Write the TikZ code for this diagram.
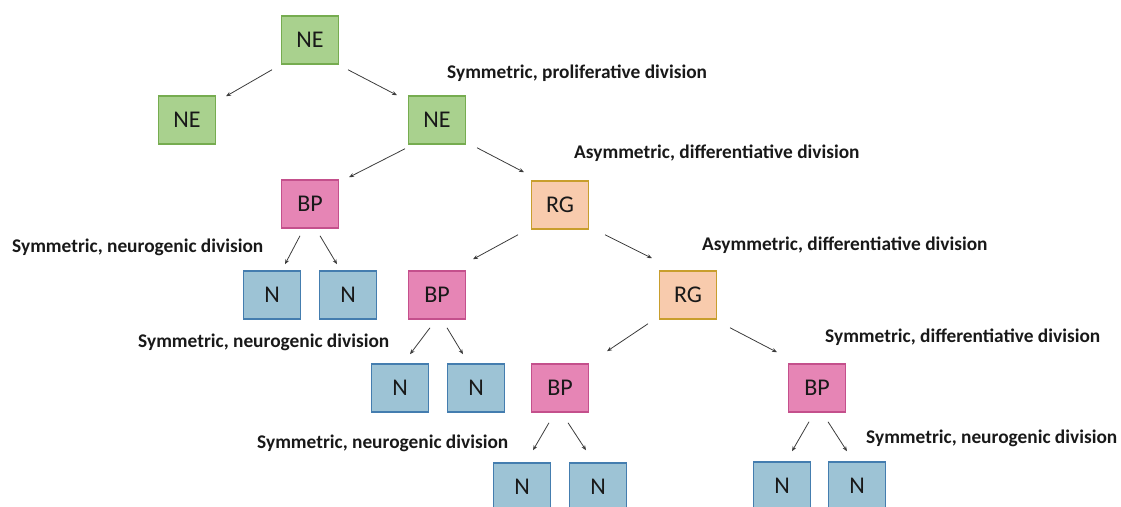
\documentclass[tikz,border=0pt]{standalone}
\usepackage{fontspec}
\setmainfont{Carlito}
\usetikzlibrary{arrows.meta,calc}
\definecolor{negreen}{RGB}{169,209,142}
\definecolor{negreenb}{RGB}{118,172,80}
\definecolor{bppink}{RGB}{230,133,181}
\definecolor{bppinkb}{RGB}{196,80,140}
\definecolor{rgorange}{RGB}{248,203,173}
\definecolor{rgorangeb}{RGB}{200,158,45}
\definecolor{nblue}{RGB}{157,195,213}
\definecolor{nblueb}{RGB}{68,125,175}
\definecolor{arrgray}{RGB}{60,60,60}
\tikzset{
  cell/.style={draw, line width=1.5pt, minimum width=57pt, minimum height=48pt, inner sep=0pt,
    font=\fontsize{24}{24}\selectfont, text=black!90},
  necell/.style={cell, fill=negreen, draw=negreenb},
  bpcell/.style={cell, fill=bppink, draw=bppinkb},
  rgcell/.style={cell, fill=rgorange, draw=rgorangeb},
  ncell/.style={cell, fill=nblue, draw=nblueb},
  lbl/.style={anchor=base west, inner sep=0pt, font=\fontsize{19.35}{19.35}\selectfont\bfseries, text=black!90},
  arr/.style={draw=arrgray, line width=0.8pt, -{Stealth[length=5pt,width=4pt]}}
}
\begin{document}
\begin{tikzpicture}[x=1pt,y=-1pt]
\useasboundingbox (0,0) rectangle (1121,506);
\clip (0,0) rectangle (1121,506);
% nodes
\node[necell] (ne0) at (310,40) {NE};
\node[necell] (ne1) at (187,120) {NE};
\node[necell] (ne2) at (437,120) {NE};
\node[bpcell] (bp1) at (310,204) {BP};
\node[rgcell] (rg1) at (560,205) {RG};
\node[ncell] (n1) at (272,295) {N};
\node[ncell] (n2) at (348,295) {N};
\node[bpcell] (bp2) at (437,295) {BP};
\node[rgcell] (rg2) at (688,295) {RG};
\node[ncell] (n3) at (400,388) {N};
\node[ncell] (n4) at (476,388) {N};
\node[bpcell] (bp3) at (560,388) {BP};
\node[bpcell] (bp4) at (817,388) {BP};
\node[ncell] (n5) at (522,487) {N};
\node[ncell] (n6) at (598,487) {N};
\node[ncell] (n7) at (782,486) {N};
\node[ncell] (n8) at (857,486) {N};
% labels
\node[lbl] (l1) at (447,78) {Symmetric, proliferative division};
\node[lbl] (l2) at (574,158) {Asymmetric, differentiative division};
\node[lbl] (l3) at (12,252) {Symmetric, neurogenic division};
\node[lbl] (l4) at (702,250) {Asymmetric, differentiative division};
\node[lbl] (l5) at (138,347) {Symmetric, neurogenic division};
\node[lbl] (l6) at (825,342) {Symmetric, differentiative division};
\node[lbl] (l7) at (257,448) {Symmetric, neurogenic division};
\node[lbl] (l8) at (866,443) {Symmetric, neurogenic division};
% arrows
\draw[arr] ($(ne0.south)+(-38,5)$) -- ($(ne1.north)+(39,1)$);
\draw[arr] ($(ne0.south)+(38,5)$) -- ($(ne2.north)+(-40,0)$);
\draw[arr] ($(ne2.south)+(-32,4)$) -- ($(bp1.north)+(39,-2)$);
\draw[arr] ($(ne2.south)+(40,3)$) -- ($(rg1.north)+(-36,-8)$);
\draw[arr] ($(bp1.south)+(-10,7)$) -- ($(n1.north)+(13,-6)$);
\draw[arr] ($(bp1.south)+(10,7)$) -- ($(n2.north)+(-11,-6)$);
\draw[arr] ($(rg1.south)+(-42,5)$) -- ($(bp2.north)+(36,-11)$);
\draw[arr] ($(rg1.south)+(45,5)$) -- ($(rg2.north)+(-36,-12)$);
\draw[arr] ($(bp2.south)+(-7,8)$) -- ($(n3.north)+(10,-9)$);
\draw[arr] ($(bp2.south)+(10,8)$) -- ($(n4.north)+(-13,-9)$);
\draw[arr] ($(rg2.south)+(-40,4)$) -- ($(bp3.north)+(47,-12)$);
\draw[arr] ($(rg2.south)+(42,8)$) -- ($(bp4.north)+(-40,-11)$);
\draw[arr] ($(bp3.south)+(-11,10)$) -- ($(n5.north)+(11,-12)$);
\draw[arr] ($(bp3.south)+(8,10)$) -- ($(n6.north)+(-12,-12)$);
\draw[arr] ($(bp4.south)+(-8,9)$) -- ($(n7.north)+(10,-10)$);
\draw[arr] ($(bp4.south)+(11,9)$) -- ($(n8.north)+(-10,-10)$);
\end{tikzpicture}
\end{document}
